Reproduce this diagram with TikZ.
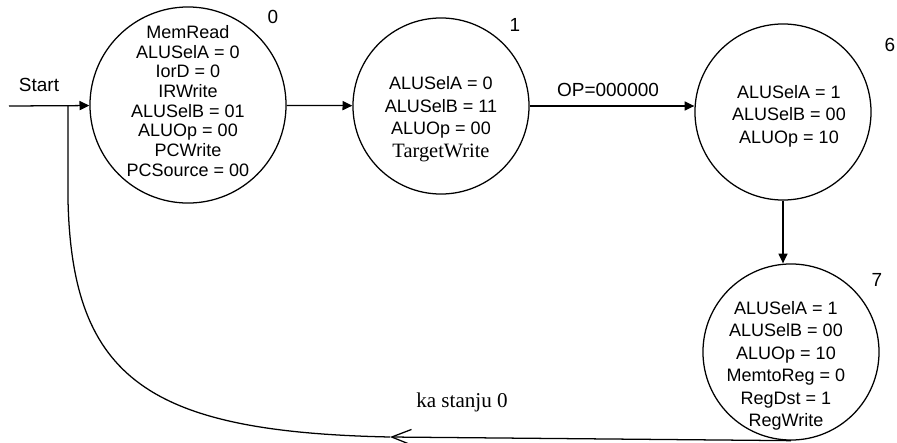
\documentclass[tikz,border=0pt]{standalone}
\usepackage{fontspec}
\setmainfont{Liberation Sans}
\newfontfamily\serifni{Liberation Serif}
\usetikzlibrary{arrows.meta}

\begin{document}
\begin{tikzpicture}[x=0.025cm,y=-0.025cm,line width=0.9pt,
		krug/.style={draw,circle,inner sep=0pt,minimum size=4.4cm},
		tekst/.style={align=center,font=\fontsize{12.8}{16}\selectfont},
		oznaka/.style={font=\fontsize{13.5}{16}\selectfont},
		strelica/.style={-{Triangle[length=7pt,width=6.5pt]}}]
	\useasboundingbox (0,0) rectangle (897,442);
	\node[krug,minimum size=4.9cm] (s0) at (188,105) {};
	\node[krug] (s1) at (441,106) {};
	\node[krug] (s6) at (783,112) {};
	\node[krug] (s7) at (791,352) {};
	\path (9,106) coordinate (st)
	(68,106) coordinate (j0)
	(390,437) coordinate (k0);
	% tekst u stanjima
	\node[tekst,font=\fontsize{12.8}{14}\selectfont] (t0) at (188,101)
	{MemRead\\ALUSelA = 0\\IorD = 0\\IRWrite\\ALUSelB = 01\\ALUOp = 00\\PCWrite\\PCSource = 00};
	\node[tekst] (t1) at (441,119)
	{ALUSelA = 0\\ALUSelB = 11\\ALUOp = 00\\{\serifni\fontsize{14.5}{16}\selectfont TargetWrite}};
	\node[tekst] (t6) at (789,116) {ALUSelA = 1\\ALUSelB = 00\\ALUOp = 10};
	\node[tekst] (t7) at (786,366)
	{ALUSelA = 1\\ALUSelB = 00\\ALUOp = 10\\MemtoReg = 0\\RegDst = 1\\RegWrite};
	\foreach \s/\x/\y/\t in {n0/273/17/0,n1/515/25/1,n6/890/45/6,n7/877/280/7}{
		\node[oznaka] (\s) at (\x,\y) {\t};
	}
	% prelazi
	\draw[strelica] (st) -- (s0);
	\draw[strelica] (s0) -- (s1);
	\draw[strelica] (s1) -- (s6.west |- s1);
	\draw[strelica] (s6.south) -- (s6 |- s7.north);
	\draw[-{Straight Barb[length=14pt,width=11pt]}] (s7.south) -- (k0);
	\draw (k0) .. controls (150,432) and (72,380) .. (68,200) -- (j0);
	\node[oznaka] (start) at (39,85) {Start};
	\node[oznaka] (op) at (608,90) {OP=000000};
	\node[font=\serifni\fontsize{15}{17}\selectfont] (ka) at (462,402) {ka stanju 0};
\end{tikzpicture}
\end{document}
